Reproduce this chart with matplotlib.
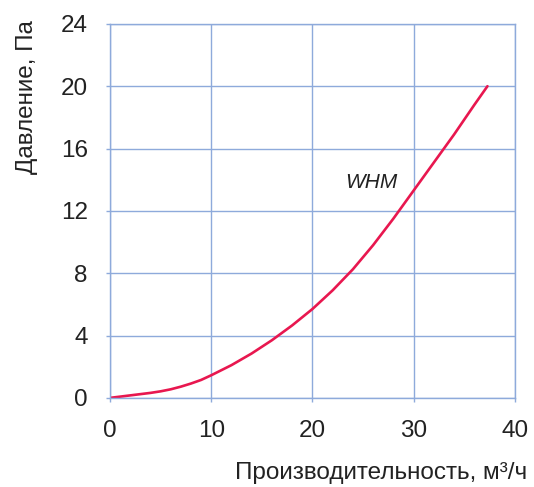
import matplotlib.pyplot as plt

# данные кривой WHM
flow = [0, 1, 2, 3, 4, 5, 6, 7, 8, 9, 10, 12, 14, 16, 18, 20, 22, 24, 26, 28,
        30, 32, 34, 36, 37.3]
pressure = [0, 0.08, 0.16, 0.24, 0.32, 0.42, 0.55, 0.72, 0.92, 1.15, 1.45, 2.1,
            2.85, 3.7, 4.65, 5.7, 6.9, 8.25, 9.8, 11.5, 13.3, 15.1, 16.9, 18.8, 20]
x_ticks = [0, 10, 20, 30, 40]
y_ticks = [0, 4, 8, 12, 16, 20, 24]

plt.rcParams['font.family'] = ['Liberation Sans', 'DejaVu Sans']

grid_color = '#8eaadb'

fig = plt.figure(figsize=(5.34, 4.87), dpi=100)
ax = fig.add_axes([0.206, 0.183, 0.758, 0.768])

ax.plot(flow, pressure, color='#e8174f', linewidth=1.9, solid_capstyle='round',
        solid_joinstyle='round')

ax.set_xlim(0, 40)
ax.set_ylim(0, 24)
ax.set_xticks(x_ticks)
ax.set_yticks(y_ticks)
ax.grid(True, color=grid_color, linewidth=1.0)
for s in ax.spines.values():
    s.set_color(grid_color)
    s.set_linewidth(1.0)
ax.tick_params(colors=grid_color, labelcolor='#222222', labelsize=17.5,
               length=3, width=1.0)
ax.tick_params(axis='x', pad=13)
ax.tick_params(axis='y', pad=13)

ax.set_xlabel('Производительность, м³/ч', fontsize=17.5, color='#222222')
ax.xaxis.set_label_coords(1.03, -0.172)
ax.xaxis.label.set_ha('right')
ax.set_ylabel('Давление, Па', fontsize=17.5, color='#222222')
ax.yaxis.set_label_coords(-0.205, 1.01)
ax.yaxis.label.set_va('center')
ax.yaxis.label.set_ha('right')

ax.text(25.8, 13.8, 'WHM', fontsize=15, style='italic', color='#222222',
        ha='center', va='center')

plt.savefig('out.png', dpi=100)
plt.close()
